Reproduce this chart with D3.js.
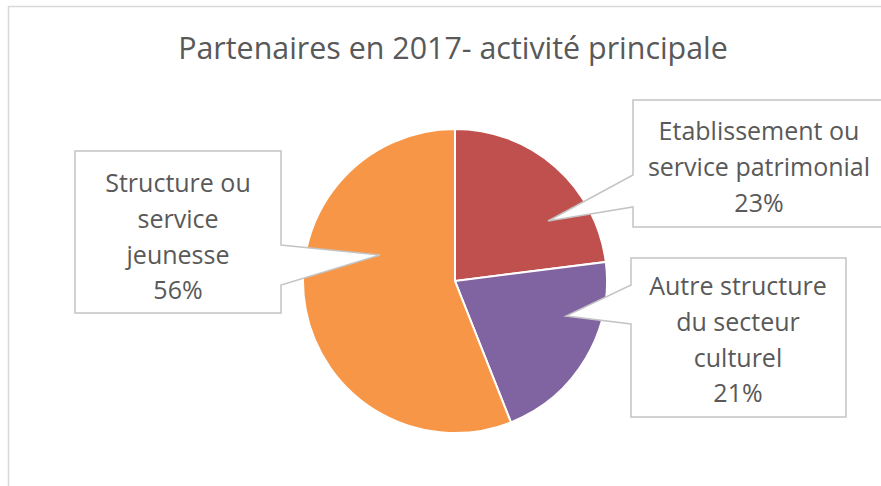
<!DOCTYPE html>
<html>
<head>
<meta charset="utf-8">
<script src="https://cdn.jsdelivr.net/npm/d3@7"></script>
<style>
  body { margin: 0; background: #fff; }
  text { font-family: "Open Sans", "DejaVu Sans", sans-serif; fill: #595959; }
</style>
</head>
<body>
<script>
// data
var categories = ["Etablissement ou service patrimonial", "Autre structure du secteur culturel", "Structure ou service jeunesse"];
var values = [23, 21, 56];
var labelLines = [["Etablissement ou", "service patrimonial"], ["Autre structure", "du secteur", "culturel"], ["Structure ou", "service", "jeunesse"]];
var colors = ["#C0504D", "#8064A2", "#F79646"];
var title = "Partenaires en 2017- activité principale";

var width = 881, height = 486;
var cx = 455, cy = 281, radius = 152;

var svg = d3.select("body").append("svg")
    .attr("width", width)
    .attr("height", height);

// chart border
svg.append("rect")
    .attr("x", 8.5).attr("y", 6.5)
    .attr("width", width).attr("height", height)
    .style("fill", "none").style("stroke", "#d9d9d9").style("stroke-width", 1.5);

svg.append("text")
    .attr("x", 453).attr("y", 47)
    .attr("dominant-baseline", "central")
    .attr("text-anchor", "middle")
    .style("font-size", "30.4px")
    .text(title);

var pie = d3.pie().sort(null).value(function(d) { return d; });
var arc = d3.arc().innerRadius(0).outerRadius(radius);

var g = svg.append("g").attr("transform", "translate(" + cx + "," + cy + ")");
g.selectAll("path")
    .data(pie(values))
    .enter()
    .append("path")
    .attr("d", arc)
    .style("fill", function(d, i) { return colors[i]; })
    .style("stroke", "#fff")
    .style("stroke-width", 2);

// callout layout: box, notch side, notch y range, tip, text center
var callouts = [
    {x0: 633, y0: 100, x1: 900, y1: 227, side: "left", n0: 175, n1: 207, tip: [548, 221], tx: 759, ty: 130},
    {x0: 631, y0: 258, x1: 846, y1: 417, side: "left", n0: 285, n1: 324, tip: [566, 316], tx: 738, ty: 285},
    {x0: 75, y0: 151, x1: 281, y1: 313, side: "right", n0: 245, n1: 285, tip: [380, 255], tx: 178, ty: 182}
];

var lineH = 35.8;
callouts.forEach(function(c, i) {
    var p = d3.path();
    p.moveTo(c.x0, c.y0);
    p.lineTo(c.x1, c.y0);
    if (c.side == "right") {
        p.lineTo(c.x1, c.n0);
        p.lineTo(c.tip[0], c.tip[1]);
        p.lineTo(c.x1, c.n1);
    }
    p.lineTo(c.x1, c.y1);
    p.lineTo(c.x0, c.y1);
    if (c.side == "left") {
        p.lineTo(c.x0, c.n1);
        p.lineTo(c.tip[0], c.tip[1]);
        p.lineTo(c.x0, c.n0);
    }
    p.closePath();
    svg.append("path")
        .attr("d", p.toString())
        .style("fill", "#fff")
        .style("stroke", "#c4c4c4")
        .style("stroke-width", 1.5);

    var lines = labelLines[i].concat([values[i] + "%"]);
    svg.append("g").selectAll("text")
        .data(lines)
        .enter()
        .append("text")
        .attr("x", c.tx)
        .attr("y", function(d, j) { return c.ty + j * lineH; })
        .attr("dominant-baseline", "central")
        .attr("text-anchor", "middle")
        .style("font-size", "25px")
        .text(function(d) { return d; });
});
</script>
</body>
</html>
